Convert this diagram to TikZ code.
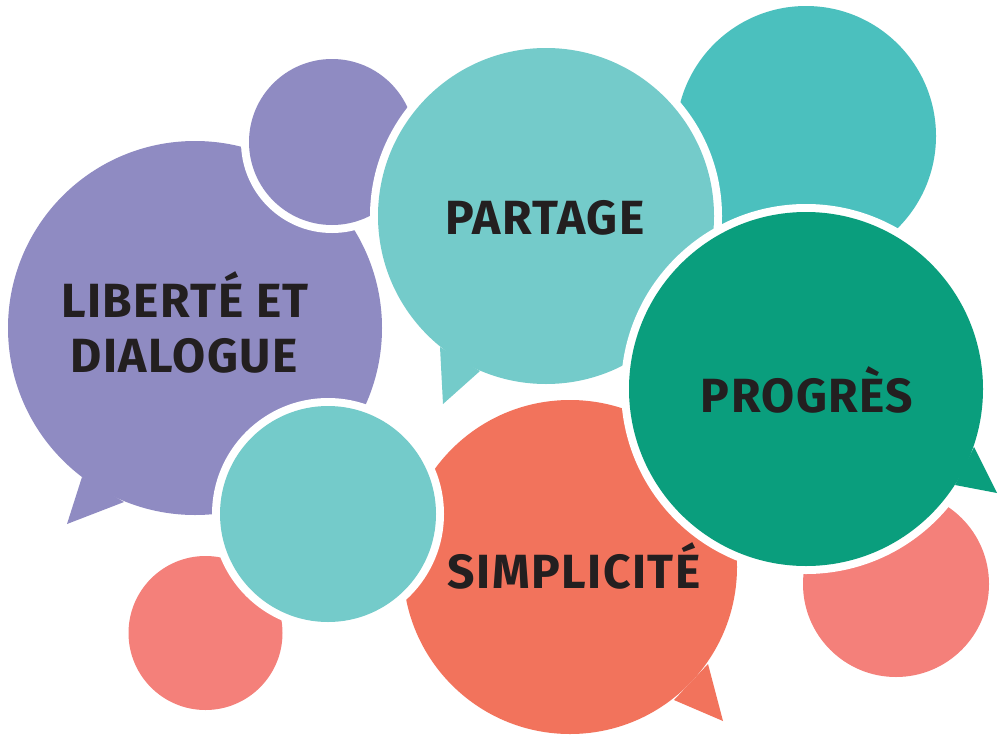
\documentclass[tikz,border=0pt]{standalone}
\usepackage{fontspec}
\setmainfont{Fira Sans}[LetterSpace=3]
\definecolor{cpurple}{HTML}{8F8BC2}
\definecolor{clteal}{HTML}{74CBCA}
\definecolor{cteal}{HTML}{4BC0BE}
\definecolor{cgreen}{HTML}{0A9E7D}
\definecolor{cpink}{HTML}{F4807A}
\definecolor{ccoral}{HTML}{F2735C}
\definecolor{ctext}{HTML}{231F20}
\tikzset{
  halo/.style={draw=white,line width=16pt,line join=round},
  word/.style={text=ctext,font=\fontsize{48}{55}\selectfont\bfseries,inner sep=0pt,anchor=base,align=center}
}
% disc with white halo: #1 colour, #2 centre, #3 radius
\newcommand\haloDisc[3]{%
  \path[halo] #2 circle (#3pt);
  \path[fill=#1] #2 circle (#3pt);}
% bubble: #1 colour, #2 centre, #3 radius, #4 #5 #6 tail points
\newcommand\haloBubble[6]{%
  \path[halo] #2 circle (#3pt);
  \path[halo] #4 -- #5 -- #6 -- cycle;
  \path[fill=#1] #2 circle (#3pt);
  \path[fill=#1] #4 -- #5 -- #6 -- cycle;}
\begin{document}
\begin{tikzpicture}[x=1pt,y=-1pt]
\useasboundingbox (0,0) rectangle (1003,736);
\fill[white] (0,0) rectangle (1003,736);
% bottom-left pink disc
\haloDisc{cpink}{(205.5,633)}{77}
% big purple bubble
\haloBubble{cpurple}{(195,328)}{187}{(82,477)}{(67,524)}{(124,502)}
% small purple disc
\haloDisc{cpurple}{(332,142)}{83}
% top-right teal disc
\haloDisc{cteal}{(806,136)}{130}
% PARTAGE bubble
\haloBubble{clteal}{(546,216)}{168}{(440,347)}{(443,404)}{(480,371)}
% SIMPLICITE bubble
\haloBubble{ccoral}{(570,567)}{167}{(708,664)}{(723,721)}{(674,700)}
% bottom-left teal disc
\haloDisc{clteal}{(328,514)}{108}
% right pink disc
\haloDisc{cpink}{(896,584)}{93}
% PROGRES bubble
\haloBubble{cgreen}{(806,389)}{177}{(974,447)}{(997,493)}{(955,485)}
% texts
\node[word] (liberte) at (185,317) {LIBERTÉ ET};
\node[word] (dialogue) at (184,372) {DIALOGUE};
\node[word] (partage) at (545,234) {PARTAGE};
\node[word] (progres) at (807,412) {PROGRÈS};
\node[word] (simplicite) at (574,588) {SIMPLICITÉ};
\end{tikzpicture}
\end{document}
